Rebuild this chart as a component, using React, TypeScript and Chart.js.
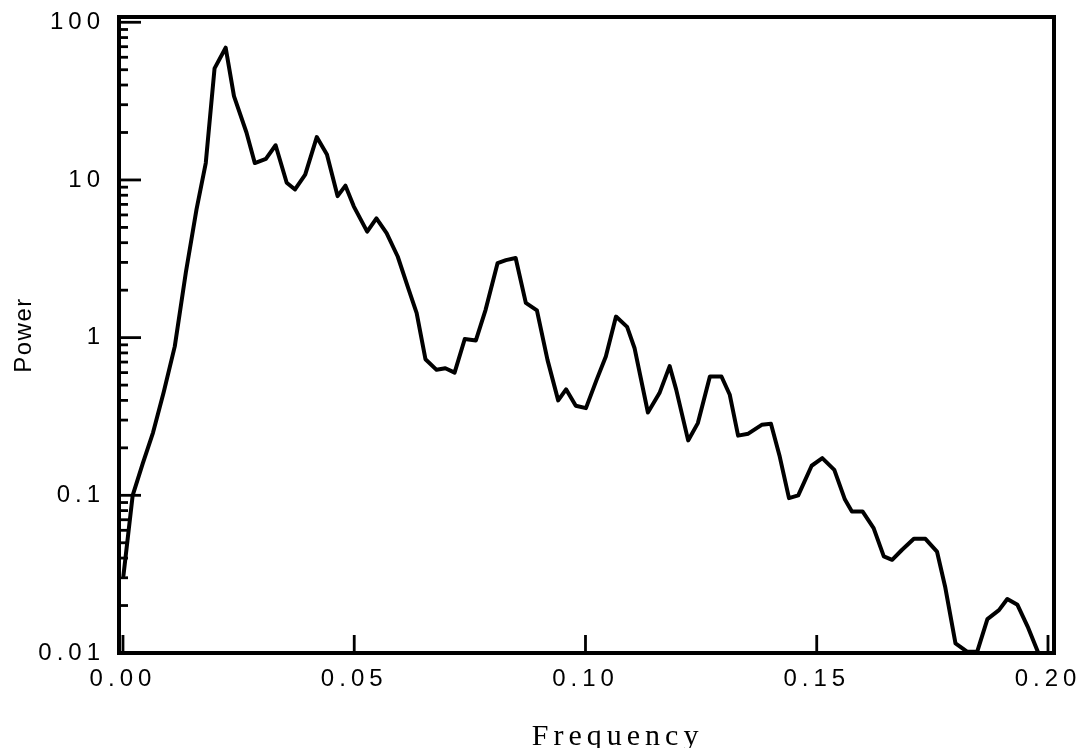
import React, { useEffect, useRef } from "react";
import { Chart, registerables } from "chart.js";

Chart.register(...registerables);

// Frequency (x) and power (y)
const FREQ = [
  0.0001, 0.0021, 0.0043, 0.0065, 0.0088, 0.0112, 0.0136, 0.0159, 0.0179, 0.0198, 0.0222,
  0.0240, 0.0267, 0.0285, 0.0309, 0.0330, 0.0354, 0.0372, 0.0394, 0.0419, 0.0441, 0.0464, 0.0481, 0.0499,
  0.0528, 0.0548, 0.0570, 0.0594, 0.0618, 0.0635, 0.0654, 0.0678, 0.0697, 0.0717,
  0.0739, 0.0763, 0.0784, 0.0810, 0.0828, 0.0849, 0.0871, 0.0895, 0.0918, 0.0941,
  0.0958, 0.0979, 0.1001, 0.1024, 0.1044, 0.1066, 0.1090, 0.1106, 0.1135, 0.1160,
  0.1182, 0.1196, 0.1222, 0.1243, 0.1269, 0.1294, 0.1312, 0.1330, 0.1352, 0.1381,
  0.1401, 0.1420, 0.1440, 0.1460, 0.1489, 0.1512, 0.1538, 0.1561, 0.1576, 0.1599,
  0.1623, 0.1645, 0.1663, 0.1684, 0.1710, 0.1735, 0.1760, 0.1778, 0.1800, 0.1825,
  0.1847, 0.1869, 0.1894, 0.1912, 0.1934, 0.1956, 0.1981,
];

const POWER = [
  0.031, 0.1, 0.16, 0.25, 0.45, 0.88, 2.6, 6.5, 12.8, 51, 69,
  34, 20, 12.8, 13.6, 16.6, 9.6, 8.7, 10.8, 18.7, 14.5, 7.9, 9.2, 6.8,
  4.7, 5.7, 4.6, 3.27, 2.01, 1.43, 0.73, 0.625, 0.64, 0.6,
  0.98, 0.96, 1.5, 2.97, 3.1, 3.2, 1.66, 1.49, 0.72, 0.4,
  0.47, 0.37, 0.357, 0.54, 0.76, 1.36, 1.17, 0.86, 0.335, 0.445,
  0.66, 0.47, 0.223, 0.287, 0.567, 0.567, 0.434, 0.239, 0.246, 0.28,
  0.284, 0.176, 0.096, 0.1, 0.154, 0.172, 0.145, 0.094, 0.079, 0.079,
  0.062, 0.041, 0.039, 0.045, 0.053, 0.053, 0.044, 0.026, 0.0115, 0.0102,
  0.0102, 0.0164, 0.0187, 0.022, 0.0202, 0.0147, 0.0097,
];

const X_TICKS = [0, 0.05, 0.1, 0.15, 0.2];
const Y_DECADES = [0.01, 0.1, 1, 10];
const Y_MANTISSAS = [1, 2, 3, 4, 5, 6, 7, 8, 9];
const Y_TICKS = [...Y_DECADES.flatMap((d) => Y_MANTISSAS.map((m) => m * d)), 100];

const X_TITLE = "Frequency";
const Y_TITLE = "Power";

const isDecade = (v: number) => {
  const l = Math.log10(v);
  return Math.abs(l - Math.round(l)) < 1e-6;
};

const framePlugin = {
  id: "frame",
  beforeDraw(chart: any) {
    chart.ctx.letterSpacing = "1.5px";
  },
  afterDatasetsDraw(chart: any) {
    const { ctx, chartArea: a, scales } = chart;
    const xs = scales.x;
    const ys = scales.y;
    ctx.save();
    ctx.letterSpacing = "0px";
    ctx.strokeStyle = "#000";
    ctx.lineCap = "butt";
    ctx.lineWidth = 4;
    ctx.strokeRect(a.left, a.top, a.right - a.left, a.bottom - a.top);
    ctx.lineWidth = 2.8;
    for (const t of ys.ticks) {
      const py = ys.getPixelForValue(t.value);
      const len = isDecade(t.value) ? 22 : 9;
      ctx.beginPath();
      ctx.moveTo(a.left, py);
      ctx.lineTo(a.left + len, py);
      ctx.stroke();
    }
    for (const t of xs.ticks) {
      const px = xs.getPixelForValue(t.value);
      ctx.beginPath();
      ctx.moveTo(px, a.bottom);
      ctx.lineTo(px, a.bottom - 18);
      ctx.stroke();
    }
    ctx.restore();
    // tick labels (drawn after this hook) use wide spacing like the reference
    ctx.letterSpacing = "5px";
  },
  afterDraw(chart: any) {
    const { ctx, scales } = chart;
    const xs = scales.x;
    ctx.save();
    ctx.letterSpacing = "5px";
    ctx.fillStyle = "#000";
    ctx.font = "30px 'Liberation Serif'";
    ctx.textAlign = "center";
    ctx.textBaseline = "alphabetic";
    ctx.fillText(X_TITLE, xs.getPixelForValue(0.1064) + 2.5, 737);
    ctx.restore();
    ctx.letterSpacing = "0px";
  },
};

export default function App() {
  const ref = useRef<HTMLCanvasElement | null>(null);

  useEffect(() => {
    if (!ref.current) return;
    const data = FREQ.map((f, i) => ({ x: f, y: POWER[i] }));
    const chart = new Chart(ref.current, {
      type: "line",
      data: {
        datasets: [
          {
            data,
            borderColor: "#000",
            borderWidth: 4,
            pointRadius: 0,
            tension: 0,
            borderJoinStyle: "round",
            borderCapStyle: "round",
            fill: false,
          },
        ],
      },
      options: {
        animation: false,
        responsive: true,
        maintainAspectRatio: false,
        devicePixelRatio: 1,
        layout: { padding: { top: 9, right: 29, left: 0, bottom: 0 } },
        plugins: { legend: { display: false }, tooltip: { enabled: false } },
        scales: {
          x: {
            type: "linear",
            min: -0.00086,
            max: 0.2013,
            afterBuildTicks: (s: any) => {
              s.ticks = X_TICKS.map((v) => ({ value: v }));
            },
            afterFit: (s: any) => {
              s.height = 95;
              s.paddingLeft = 0;
              s.paddingRight = 0;
              s.paddingTop = 0;
              s.paddingBottom = 0;
            },
            grid: { display: false, drawTicks: false },
            border: { display: false },
            ticks: {
              z: 1,
              autoSkip: false,
              maxRotation: 0,
              padding: 12,
              color: "#000",
              font: { family: "Liberation Sans", size: 24 },
              callback: (v: any) => Number(v).toFixed(2),
            },
            title: { display: false, text: X_TITLE },
          },
          y: {
            type: "logarithmic",
            min: 0.01,
            max: 108,
            afterBuildTicks: (s: any) => {
              s.ticks = Y_TICKS.map((v) => ({ value: v }));
            },
            afterFit: (s: any) => {
              s.width = 111;
              s.paddingLeft = 0;
              s.paddingRight = 0;
              s.paddingTop = 0;
              s.paddingBottom = 0;
            },
            grid: { display: false, drawTicks: false },
            border: { display: false },
            ticks: {
              z: 1,
              autoSkip: false,
              padding: 14,
              color: "#000",
              font: { family: "Liberation Sans", size: 24 },
              callback: (v: any) => (isDecade(Number(v)) ? String(Number(v)) : ""),
            },
            title: {
              display: true,
              text: Y_TITLE,
              color: "#000",
              font: { family: "Liberation Sans", size: 24 },
              padding: { top: 2, bottom: 0 },
            },
          },
        },
      },
      plugins: [framePlugin],
    });
    return () => chart.destroy();
  }, []);

  return (
    <div style={{ position: "relative", width: 1075, height: 740 }}>
      <canvas ref={ref} />
    </div>
  );
}
